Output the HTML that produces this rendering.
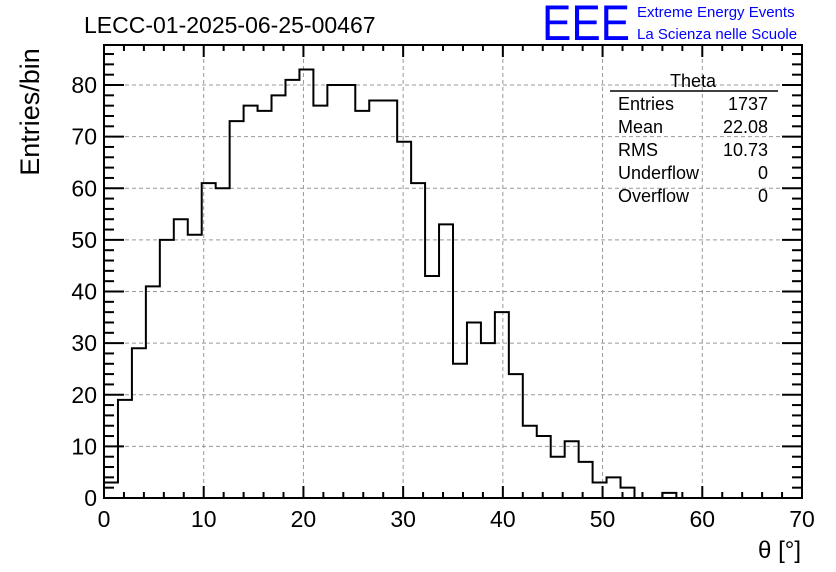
<!DOCTYPE html>
<html><head><meta charset="utf-8"><style>
body{margin:0;background:#fff;}
svg{display:block;font-family:"Liberation Sans",sans-serif;}
</style></head><body>
<svg id="c" width="836" height="572">
<text x="84" y="33" font-size="23">LECC-01-2025-06-25-00467</text>
<text x="542" y="40" font-size="50" fill="#0000ff" textLength="88" lengthAdjust="spacingAndGlyphs">EEE</text>
<text x="637" y="17" font-size="15" fill="#0000ff">Extreme Energy Events</text>
<text x="637" y="39" font-size="15" fill="#0000ff">La Scienza nelle Scuole</text>
<g id="grid"></g>
<g id="ticks"></g>
<path id="hist" fill="none" stroke="#000" stroke-width="2"/>
<rect x="104" y="45" width="698" height="453" fill="none" stroke="#000" stroke-width="2"/>
<text transform="translate(39,112) rotate(-90)" text-anchor="middle" font-size="27">Entries/bin</text>
<text x="801" y="558" text-anchor="end" font-size="24">θ [°]</text>
<g font-size="18">
<text x="693" y="87" text-anchor="middle">Theta</text>
<line x1="610" y1="91" x2="778" y2="91" stroke="#000" stroke-width="1.5"/>
<text x="618" y="110">Entries</text><text x="768" y="110" text-anchor="end">1737</text>
<text x="618" y="133">Mean</text><text x="768" y="133" text-anchor="end">22.08</text>
<text x="618" y="156">RMS</text><text x="768" y="156" text-anchor="end">10.73</text>
<text x="618" y="179">Underflow</text><text x="768" y="179" text-anchor="end">0</text>
<text x="618" y="202">Overflow</text><text x="768" y="202" text-anchor="end">0</text>
</g>
</svg>
<script>
const counts=[3,19,29,41,50,54,51,61,60,73,76,75,78,81,83,76,80,80,75,77,77,69,61,43,53,26,34,30,36,24,14,12,8,11,7,3,4,2,0,0,1,0,0,0,0,0,0,0,0,0];
const xTicks=[0,10,20,30,40,50,60,70];
const yTicks=[0,10,20,30,40,50,60,70,80];
const binWidth=1.4;
const X0=104,X1=802,Y0=498,Y1=45,XMAX=70,YMAX=87.75;
const sx=v=>X0+(X1-X0)*v/XMAX, sy=v=>Y0-(Y0-Y1)*v/YMAX;
const NS="http://www.w3.org/2000/svg";
const svg=document.getElementById('c'),grid=document.getElementById('grid'),tk=document.getElementById('ticks');
function ln(p,x1,y1,x2,y2,attrs){const l=document.createElementNS(NS,'line');l.setAttribute('x1',x1);l.setAttribute('y1',y1);l.setAttribute('x2',x2);l.setAttribute('y2',y2);for(const k in attrs)l.setAttribute(k,attrs[k]);p.appendChild(l);return l;}
function tx(x,y,s,anchor){const t=document.createElementNS(NS,'text');t.setAttribute('x',x);t.setAttribute('y',y);t.setAttribute('font-size','23');t.setAttribute('text-anchor',anchor);t.textContent=s;svg.appendChild(t);return t;}
xTicks.forEach(v=>{const x=sx(v);
 if(v>0&&v<XMAX){const g=ln(grid,x,Y1,x,Y0,{stroke:'#999','stroke-dasharray':'4,3','stroke-width':1});
 
 }
 const t=tx(x,527,String(v),'middle');
 
 });
yTicks.forEach(v=>{const y=sy(v);
 if(v>0){const g=ln(grid,X0,y,X1,y,{stroke:'#999','stroke-dasharray':'4,3','stroke-width':1});
 
 }
 const t=tx(97,y+8,String(v),'end');
 
 });
for(let v=0;v<=XMAX;v+=2){const L=v%10===0?12:6,x=sx(v);ln(tk,x,Y0,x,Y0-L,{stroke:'#000','stroke-width':2});ln(tk,x,Y1,x,Y1+L,{stroke:'#000','stroke-width':2});}
for(let v=0;v<=YMAX;v+=2){const L=v%10===0?20:10,y=sy(v);ln(tk,X0,y,X0+L,y,{stroke:'#000','stroke-width':2});ln(tk,X1,y,X1-L,y,{stroke:'#000','stroke-width':2});}
let d='M'+sx(0)+','+sy(0);
counts.forEach((c,i)=>{d+=' L'+sx(i*binWidth)+','+sy(c)+' L'+sx((i+1)*binWidth)+','+sy(c);});
document.getElementById('hist').setAttribute('d',d);
</script>
</body></html>
